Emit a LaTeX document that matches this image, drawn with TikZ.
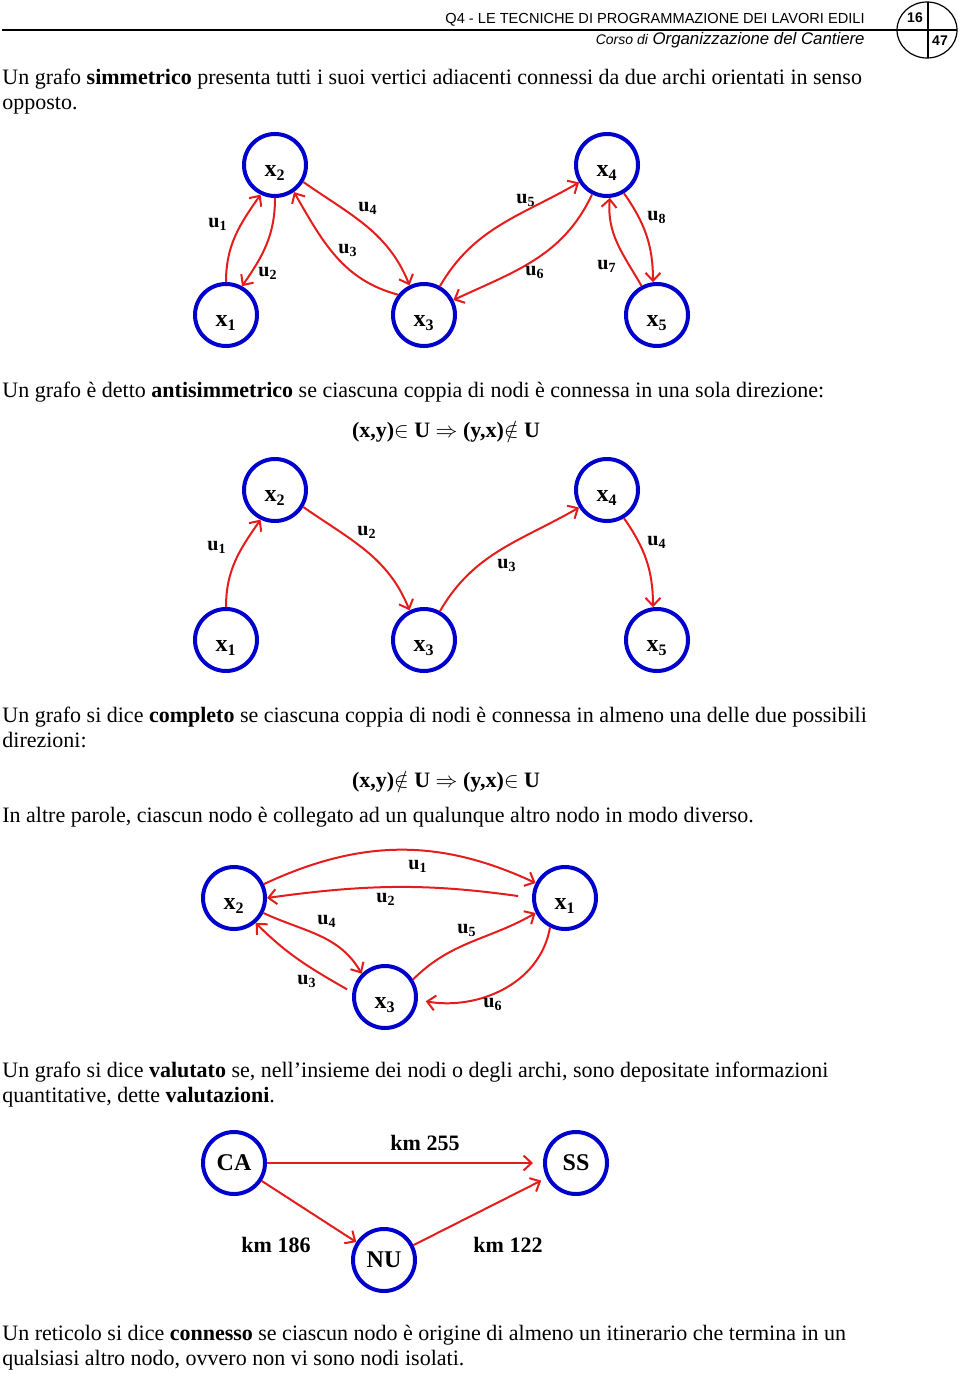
\documentclass[tikz,border=0pt]{standalone}
\usepackage{fontspec}
\setmainfont{Liberation Serif}
\newfontfamily\arial{Liberation Sans}
\usetikzlibrary{arrows.meta}
\definecolor{blunodo}{RGB}{0,0,205}
\definecolor{rossoarco}{RGB}{228,28,28}
\newcommand{\xn}[1]{\raisebox{-3pt}[\height][0pt]{x\textsubscript{#1}}}

\begin{document}
\begin{tikzpicture}[x=0.5pt,y=0.5pt,
    vertice/.style={circle,draw=blunodo,line width=2pt,minimum size=31pt,inner sep=0pt,
        font=\bfseries\fontsize{12}{14}\selectfont},
    arco/.style={draw=rossoarco,line width=1pt,-{Straight Barb[length=4pt,width=7.5pt]}},
    etich/.style={font=\bfseries\fontsize{10}{12}\selectfont,inner sep=0pt},
    riga/.style={anchor=base west,inner sep=0pt,font=\fontsize{11}{13}\selectfont},
    formula/.style={anchor=base,inner sep=0pt,font=\bfseries\fontsize{11}{13}\selectfont}]

    \useasboundingbox (0,0) rectangle (960,-1374);

    % intestazione
    \draw[line width=0.8pt] (2,-30) -- (957,-30);
    \draw[line width=0.6pt] (927,-30) ellipse [x radius=30, y radius=28];
    \draw[line width=0.6pt] (928,-2) -- (928,-58);
    \node[anchor=base east,inner sep=0pt,font=\arial\fontsize{7.3}{9}\selectfont] (titolo) at (865,-24)
        {Q4 - LE TECNICHE DI PROGRAMMAZIONE DEI LAVORI EDILI};
    \node[anchor=base east,inner sep=0pt,font=\arial\itshape\fontsize{8.4}{10}\selectfont] (corso) at (865,-45)
        {{\fontsize{7}{8}\selectfont Corso di} Organizzazione del Cantiere};
    \node[font=\arial\bfseries\fontsize{7}{8}\selectfont,inner sep=0pt] (pag) at (915,-18) {16};
    \node[font=\arial\bfseries\fontsize{7}{8}\selectfont,inner sep=0pt] (tot) at (940,-41) {47};

    % grafo simmetrico
    \node[riga] (t1) at (2,-85) {Un grafo \textbf{simmetrico} presenta tutti i suoi vertici adiacenti connessi da due archi orientati in senso};
    \node[riga] (t2) at (2,-110) {opposto.};

    \node[vertice] (a2) at (275,-165) {\xn{2}};
    \node[vertice] (a4) at (607,-165) {\xn{4}};
    \node[vertice] (a1) at (226,-315) {\xn{1}};
    \node[vertice] (a3) at (424,-315) {\xn{3}};
    \node[vertice] (a5) at (657,-315) {\xn{5}};

    \draw[arco] (a1.north) to[out=90,in=-125] (a2.-116);
    \draw[arco] (a2.south) to[out=-90,in=55] (a1.61);
    \draw[arco] (a3.142) to[out=165,in=-60] (a2.-55);
    \draw[arco] (a2.-31) to[out=-35,in=112] (a3.116);
    \draw[arco] (a3.61) to[out=60,in=-150] (a4.-148);
    \draw[arco] (a4.-117) to[out=-115,in=25] (a3.27);
    \draw[arco] (a5.118) to[out=120,in=-95] (a4.-85);
    \draw[arco] (a4.-59) to[out=-55,in=90] (a5.97);

    \node[etich] (au1) at (218,-224) {u\textsubscript{1}};
    \node[etich] (au2) at (268,-273) {u\textsubscript{2}};
    \node[etich] (au3) at (348,-250) {u\textsubscript{3}};
    \node[etich] (au4) at (368,-208) {u\textsubscript{4}};
    \node[etich] (au5) at (526,-200) {u\textsubscript{5}};
    \node[etich] (au6) at (535,-272) {u\textsubscript{6}};
    \node[etich] (au7) at (607,-266) {u\textsubscript{7}};
    \node[etich] (au8) at (657,-217) {u\textsubscript{8}};

    % grafo antisimmetrico
    \node[riga] (t3) at (2,-397) {Un grafo è detto \textbf{antisimmetrico} se ciascuna coppia di nodi è connessa in una sola direzione:};
    \node[formula] (f1) at (446,-437) {(x,y)$\in$ U $\Rightarrow$ (y,x)$\notin$ U};

    \node[vertice] (b2) at (275,-490) {\xn{2}};
    \node[vertice] (b4) at (607,-490) {\xn{4}};
    \node[vertice] (b1) at (226,-640) {\xn{1}};
    \node[vertice] (b3) at (424,-640) {\xn{3}};
    \node[vertice] (b5) at (657,-640) {\xn{5}};

    \draw[arco] (b1.north) to[out=90,in=-125] (b2.-116);
    \draw[arco] (b2.-31) to[out=-35,in=112] (b3.116);
    \draw[arco] (b3.61) to[out=60,in=-150] (b4.-148);
    \draw[arco] (b4.-59) to[out=-55,in=90] (b5.97);

    \node[etich] (bu1) at (217,-547) {u\textsubscript{1}};
    \node[etich] (bu2) at (367,-532) {u\textsubscript{2}};
    \node[etich] (bu3) at (507,-565) {u\textsubscript{3}};
    \node[etich] (bu4) at (657,-542) {u\textsubscript{4}};

    % grafo completo
    \node[riga] (t4) at (2,-722) {Un grafo si dice \textbf{completo} se ciascuna coppia di nodi è connessa in almeno una delle due possibili};
    \node[riga] (t5) at (2,-747) {direzioni:};
    \node[formula] (f2) at (446,-787) {(x,y)$\notin$ U $\Rightarrow$ (y,x)$\in$ U};
    \node[riga] (t6) at (2,-822) {In altre parole, ciascun nodo è collegato ad un qualunque altro nodo in modo diverso.};

    \node[vertice] (c2) at (234,-898) {\xn{2}};
    \node[vertice] (c1) at (565,-898) {\xn{1}};
    \node[vertice] (c3) at (385,-997) {\xn{3}};

    \draw[arco] (c2.25) to[out=25,in=155] (c1.153);
    \draw[arco,shorten <=7pt] (c1.west) to[out=172,in=8] (c2.east);
    \draw[arco] (c2.-27) to[out=-25,in=120] (c3.135);
    \draw[arco,shorten <=3pt] (c3.172) to[out=150,in=-45] (c2.-49);
    \draw[arco] (c3.32) to[out=45,in=-150] (c1.-153);
    \draw[arco,shorten >=4pt] (c1.-117) to[out=-100,in=-10] (c3.-5);

    \node[etich] (cu1) at (418,-866) {u\textsubscript{1}};
    \node[etich] (cu2) at (386,-899) {u\textsubscript{2}};
    \node[etich] (cu3) at (307,-981) {u\textsubscript{3}};
    \node[etich] (cu4) at (327,-921) {u\textsubscript{4}};
    \node[etich] (cu5) at (467,-930) {u\textsubscript{5}};
    \node[etich] (cu6) at (493,-1004) {u\textsubscript{6}};

    % grafo valutato
    \node[riga] (t7) at (2,-1077) {Un grafo si dice \textbf{valutato} se, nell’insieme dei nodi o degli archi, sono depositate informazioni};
    \node[riga] (t8) at (2,-1102) {quantitative, dette \textbf{valutazioni}.};

    \node[vertice] (ca) at (234,-1163) {CA};
    \node[vertice] (ss) at (576,-1163) {SS};
    \node[vertice] (nu) at (384,-1260) {NU};

    \draw[arco,shorten >=5pt] (ca.east) -- (ss.west);
    \draw[arco] (ca) -- (nu);
    \draw[arco,shorten >=3pt] (nu) -- (ss);

    \node[etich,font=\bfseries\fontsize{11}{13}\selectfont] (k1) at (425,-1143) {km 255};
    \node[etich,font=\bfseries\fontsize{11}{13}\selectfont] (k2) at (276,-1245) {km 186};
    \node[etich,font=\bfseries\fontsize{11}{13}\selectfont] (k3) at (508,-1245) {km 122};

    % connessione
    \node[riga] (t9) at (2,-1340) {Un reticolo si dice \textbf{connesso} se ciascun nodo è origine di almeno un itinerario che termina in un};
    \node[riga] (t10) at (2,-1365) {qualsiasi altro nodo, ovvero non vi sono nodi isolati.};

\end{tikzpicture}
\end{document}
